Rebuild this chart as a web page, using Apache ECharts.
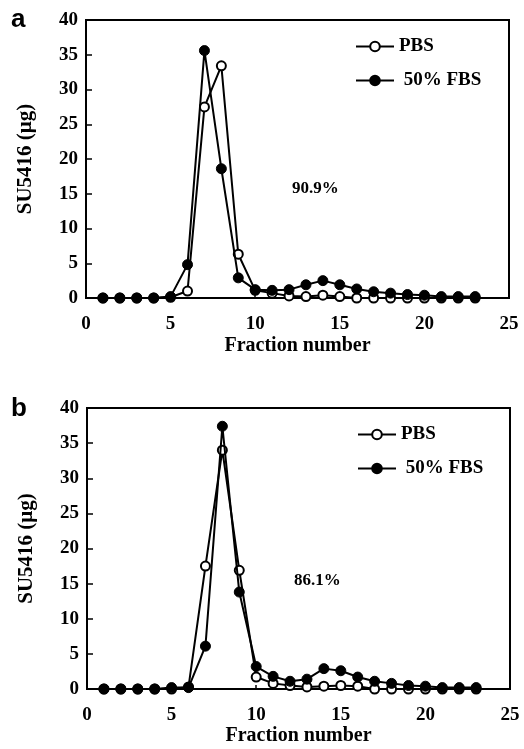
<!DOCTYPE html>
<html>
<head>
<meta charset="utf-8">
<script src="https://cdn.jsdelivr.net/npm/echarts@6/dist/echarts.min.js"></script>
<style>
  html, body { margin: 0; padding: 0; background: #fff; }
  #chart { width: 524px; height: 749px; }
</style>
</head>
<body>
<div id="chart"></div>
<script>
// fraction numbers (x) shared by both panels
const fractions = [1, 2, 3, 4, 5, 6, 7, 8, 9, 10, 11, 12, 13, 14, 15, 16, 17, 18, 19, 20, 21, 22, 23];

// panel a
const pbsA = [0, 0, 0, 0, 0.1, 1.0, 27.5, 33.4, 6.3, 1.1, 0.7, 0.3, 0.2, 0.4, 0.2, 0, 0, 0, 0, 0, 0, 0, 0];
const fbsA = [0, 0, 0, 0, 0.2, 4.8, 35.6, 18.6, 2.9, 1.2, 1.1, 1.2, 1.9, 2.5, 1.9, 1.3, 0.9, 0.7, 0.5, 0.4, 0.2, 0.2, 0.2];

// panel b
const pbsB = [0, 0, 0, 0, 0, 0.3, 17.5, 34.0, 16.9, 1.7, 0.8, 0.5, 0.3, 0.4, 0.5, 0.4, 0, 0, 0, 0, 0, 0, 0];
const fbsB = [0, 0, 0, 0, 0.2, 0.2, 6.1, 37.4, 13.8, 3.2, 1.8, 1.1, 1.4, 2.9, 2.6, 1.7, 1.1, 0.8, 0.5, 0.4, 0.2, 0.2, 0.2];

const xTicks = [0, 5, 10, 15, 20, 25];
const yTicks = [0, 5, 10, 15, 20, 25, 30, 35, 40];
const percentA = '90.9%';
const percentB = '86.1%';

const serif = '"Liberation Serif", "Times New Roman", serif';

const chart = echarts.init(document.getElementById('chart'), null, { renderer: 'canvas' });

const pairs = (vals) => fractions.map((f, i) => [f, vals[i]]);

const makeX = (gridIndex, gap) => ({
  type: 'value',
  gridIndex,
  min: xTicks[0],
  max: xTicks[xTicks.length - 1],
  interval: 5,
  name: 'Fraction number',
  nameLocation: 'middle',
  nameGap: gap,
  nameTextStyle: { fontFamily: serif, fontWeight: 'bold', fontSize: 20, color: '#000' },
  axisLine: { show: true, lineStyle: { color: '#000', width: 2 } },
  axisTick: { show: true, inside: true, length: 4, lineStyle: { color: '#000', width: 1.5 } },
  axisLabel: { margin: 17, fontFamily: serif, fontWeight: 'bold', fontSize: 19, color: '#000' },
  splitLine: { show: false },
});

const makeY = (gridIndex) => ({
  type: 'value',
  gridIndex,
  min: yTicks[0],
  max: yTicks[yTicks.length - 1],
  interval: 5,
  name: 'SU5416 (μg)',
  nameLocation: 'middle',
  nameGap: 50,
  nameTextStyle: { fontFamily: serif, fontWeight: 'bold', fontSize: 21, color: '#000' },
  axisLine: { show: true, lineStyle: { color: '#000', width: 2 } },
  axisTick: { show: true, inside: true, length: 6, lineStyle: { color: '#000', width: 1.5 } },
  axisLabel: { margin: 8, fontFamily: serif, fontWeight: 'bold', fontSize: 19, color: '#000' },
  splitLine: { show: false },
});

const openSeries = (name, idx, vals) => ({
  name,
  type: 'line',
  xAxisIndex: idx,
  yAxisIndex: idx,
  data: pairs(vals),
  symbol: 'circle',
  symbolSize: 9,
  showAllSymbol: true,
  lineStyle: { color: '#000', width: 2 },
  itemStyle: { color: '#fff', borderColor: '#000', borderWidth: 2 },
  z: 2,
});

const filledSeries = (name, idx, vals) => ({
  name,
  type: 'line',
  xAxisIndex: idx,
  yAxisIndex: idx,
  data: pairs(vals),
  symbol: 'circle',
  symbolSize: 10,
  showAllSymbol: true,
  lineStyle: { color: '#000', width: 2 },
  itemStyle: { color: '#000', borderColor: '#000', borderWidth: 1 },
  z: 3,
});

const makeLegend = (left, top) => ({
  left,
  top,
  orient: 'vertical',
  itemWidth: 38,
  itemHeight: 12,
  itemGap: 15,
  data: ['PBS', '50% FBS'],
  formatter: (name) => (name === '50% FBS' ? ' ' + name : name),
  textStyle: { fontFamily: serif, fontWeight: 'bold', fontSize: 19, color: '#000' },
});

chart.setOption({
  animation: false,
  backgroundColor: '#fff',
  grid: [
    { left: 86, top: 20, width: 423, height: 278, show: true, borderColor: '#000', borderWidth: 2, backgroundColor: 'transparent' },
    { left: 87, top: 408, width: 423, height: 281, show: true, borderColor: '#000', borderWidth: 2, backgroundColor: 'transparent' },
  ],
  xAxis: [makeX(0, 38), makeX(1, 35)],
  yAxis: [makeY(0), makeY(1)],
  legend: [makeLegend(350, 32), makeLegend(352, 420)],
  series: [
    openSeries('PBS', 0, pbsA),
    filledSeries('50% FBS', 0, fbsA),
    openSeries('PBS', 1, pbsB),
    filledSeries('50% FBS', 1, fbsB),
  ],
  graphic: [
    { type: 'text', left: 11, top: 7, style: { text: 'a', font: 'bold 26px "Liberation Sans", Arial, sans-serif', fill: '#000' } },
    { type: 'text', left: 11, top: 396, style: { text: 'b', font: 'bold 26px "Liberation Sans", Arial, sans-serif', fill: '#000' } },
    { type: 'text', left: 292, top: 180, style: { text: percentA, font: 'bold 17px ' + serif, fill: '#000' } },
    { type: 'text', left: 294, top: 572, style: { text: percentB, font: 'bold 17px ' + serif, fill: '#000' } },
  ],
});
</script>
</body>
</html>
